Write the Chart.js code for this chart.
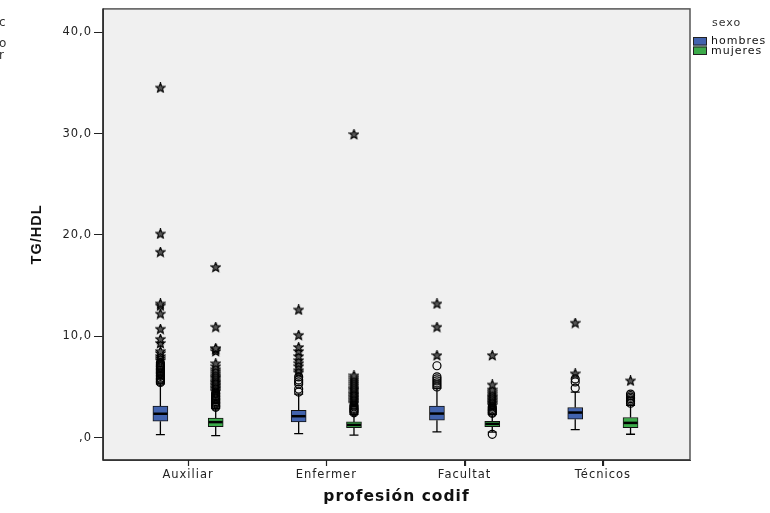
<!DOCTYPE html>
<html>
<head>
<meta charset="utf-8">
<script src="https://cdn.jsdelivr.net/npm/chart.js@4.4.1/dist/chart.umd.min.js"></script>
<style>
html, body { margin: 0; padding: 0; background: #fff; }
</style>
</head>
<body>
<canvas id="chart" width="770" height="513"></canvas>
<script>
const categories = ["Auxiliar", "Enfermer", "Facultat", "Técnicos"];
const yTicks = [0, 10, 20, 30, 40];

// boxes: lower whisker, Q1, median, Q3, upper whisker
const hombresLow = [0.3, 0.4, 0.57, 0.8];
const hombresQ1 = [1.63, 1.56, 1.72, 1.82];
const hombresMed = [2.36, 2.12, 2.38, 2.48];
const hombresQ3 = [3.12, 2.71, 3.13, 2.98];
const hombresHigh = [5.3, 4.3, 4.9, 4.5];

const mujeresLow = [0.2, 0.25, 0.55, 0.34];
const mujeresQ1 = [1.1, 1.0, 1.08, 0.98];
const mujeresMed = [1.54, 1.26, 1.36, 1.46];
const mujeresQ3 = [1.94, 1.56, 1.62, 1.99];
const mujeresHigh = [2.9, 2.3, 2.3, 3.2];

// outliers (circles) and extremes (stars)
const hombresCircles = [
    [5.45, 5.55, 5.7, 5.8, 5.9, 6.05, 6.15, 6.3, 6.4, 6.5, 6.65, 6.75, 6.85, 7.0, 7.1, 7.25, 7.4],
    [4.5, 4.8, 5.3, 5.5, 5.7, 6.0],
    [5.0, 5.2, 5.4, 5.6, 5.8, 6.0, 7.1],
    [4.9, 5.5, 5.8]
];
const hombresStars = [
    [7.6, 7.8, 8.0, 8.3, 8.5, 9.3, 9.7, 10.7, 12.2, 13.0, 13.2, 18.3, 20.1, 34.5],
    [6.4, 6.6, 7.0, 7.3, 7.6, 8.0, 8.5, 8.9, 10.1, 12.6],
    [8.1, 10.9, 13.2],
    [6.3, 11.3]
];
const mujeresCircles = [
    [3.0, 3.1, 3.2, 3.35, 3.45, 3.55, 3.7, 3.8, 3.9, 4.05, 4.15, 4.3, 4.4],
    [2.45, 2.55, 2.7, 2.8, 2.9, 3.05, 3.2],
    [0.33, 2.4, 2.5, 2.65, 2.75, 2.9, 3.05],
    [3.4, 3.55, 3.7, 3.85, 4.0, 4.15, 4.3]
];
const mujeresStars = [
    [4.55, 4.7, 4.85, 5.0, 5.15, 5.3, 5.45, 5.6, 5.8, 5.95, 6.1, 6.3, 6.5, 6.7, 7.0, 7.3, 8.5, 8.7, 8.8, 10.9, 16.8],
    [3.35, 3.5, 3.65, 3.8, 3.95, 4.1, 4.25, 4.4, 4.6, 4.75, 4.9, 5.1, 5.3, 5.5, 5.7, 5.9, 6.1, 29.9],
    [3.2, 3.35, 3.5, 3.65, 3.8, 3.95, 4.1, 4.3, 4.5, 4.7, 5.2, 8.1],
    [5.6]
];

const blue = "#4263ae";
const green = "#3caa4a";
const shift = 0.2;

function points(groups, off) {
    return groups.flatMap((vals, i) => vals.map(v => ({ x: i + off, y: v })));
}

function starImage() {
    const c = document.createElement("canvas");
    c.width = 11; c.height = 11;
    const g = c.getContext("2d");
    g.beginPath();
    for (let k = 0; k < 10; k++) {
        const r = k % 2 ? 2.2 : 5;
        const ang = -Math.PI / 2 + k * Math.PI / 5;
        g.lineTo(5.5 + r * Math.cos(ang), 5.5 + r * Math.sin(ang));
    }
    g.closePath();
    g.fillStyle = "#555";
    g.fill();
    g.strokeStyle = "#000";
    g.lineWidth = 1.1;
    g.stroke();
    return c;
}
const star = starImage();

const groups = [
    { off: -shift, low: hombresLow, q1: hombresQ1, med: hombresMed, q3: hombresQ3, high: hombresHigh },
    { off: shift, low: mujeresLow, q1: mujeresQ1, med: mujeresMed, q3: mujeresQ3, high: mujeresHigh }
];

const spacing = chart => { chart.ctx.letterSpacing = "1px"; };

const boxPlugin = {
    id: "boxes",
    beforeInit: spacing,
    beforeUpdate: spacing,
    beforeLayout: spacing,
    beforeDraw(chart) {
        spacing(chart);
        const ctx = chart.ctx, a = chart.chartArea;
        ctx.save();
        ctx.fillStyle = "#f0f0f0";
        ctx.fillRect(a.left, a.top, a.right - a.left, a.bottom - a.top);
        ctx.restore();
    },
    beforeDatasetsDraw(chart) {
        const ctx = chart.ctx, xs = chart.scales.x, ys = chart.scales.y;
        ctx.save();
        ctx.strokeStyle = "#000";
        ctx.lineWidth = 1.3;
        groups.forEach(g => {
            categories.forEach((c, i) => {
                const x = xs.getPixelForValue(i + g.off);
                const yl = ys.getPixelForValue(g.low[i]), yh = ys.getPixelForValue(g.high[i]);
                ctx.beginPath();
                ctx.moveTo(x, ys.getPixelForValue(g.q3[i])); ctx.lineTo(x, yh);
                ctx.moveTo(x, ys.getPixelForValue(g.q1[i])); ctx.lineTo(x, yl);
                ctx.moveTo(x - 4.5, yh); ctx.lineTo(x + 4.5, yh);
                ctx.moveTo(x - 4.5, yl); ctx.lineTo(x + 4.5, yl);
                ctx.stroke();
            });
        });
        ctx.restore();
    },
    afterDatasetDraw(chart, args) {
        if (args.index > 1) return;
        const g = groups[args.index];
        const ctx = chart.ctx, xs = chart.scales.x, ys = chart.scales.y;
        ctx.save();
        ctx.strokeStyle = "#000";
        ctx.lineWidth = 2.5;
        categories.forEach((c, i) => {
            const x = xs.getPixelForValue(i + g.off), y = ys.getPixelForValue(g.med[i]);
            ctx.beginPath();
            ctx.moveTo(x - 7, y); ctx.lineTo(x + 7, y);
            ctx.stroke();
        });
        ctx.restore();
    },
    afterDraw(chart) {
        const ctx = chart.ctx, a = chart.chartArea, xs = chart.scales.x;
        ctx.save();
        ctx.strokeStyle = "#555";
        ctx.lineWidth = 1.5;
        ctx.strokeRect(a.left, a.top, a.right - a.left, a.bottom - a.top);
        ctx.strokeStyle = "#222";
        ctx.lineWidth = 1.2;
        ctx.beginPath();
        ctx.moveTo(a.left, a.top); ctx.lineTo(a.left, a.bottom); ctx.lineTo(a.right, a.bottom);
        // category tick marks
        categories.forEach((c, i) => {
            const x = Math.round(xs.getPixelForValue(i)) + 0.5;
            ctx.moveTo(x, a.bottom); ctx.lineTo(x, a.bottom + 6);
        });
        ctx.stroke();

        // legend
        ctx.letterSpacing = "1px";
        ctx.fillStyle = "#333";
        ctx.textBaseline = "middle";
        ctx.font = "11px 'DejaVu Sans'";
        ctx.fillText("sexo", 712, 23);
        [["hombres", blue, 37], ["mujeres", green, 46.5]].forEach(([t, col, y]) => {
            ctx.fillStyle = col;
            ctx.fillRect(693, y, 14, 8.5);
            ctx.strokeStyle = "#222";
            ctx.lineWidth = 1;
            ctx.strokeRect(693.5, y + 0.5, 13, 7.5);
            ctx.fillStyle = "#111";
            ctx.fillText(t, 711, y + 4.5);
        });

        // cut-off text at left edge
        ctx.font = "12px 'DejaVu Sans'";
        ctx.fillStyle = "#333";
        ctx.fillText("c", -1, 23);
        ctx.fillText("o", -1, 43.5);
        ctx.fillText("r", -1, 56);
        ctx.restore();
    }
};

new Chart(document.getElementById("chart"), {
    data: {
        datasets: [
            {
                type: "bar",
                label: "hombres",
                data: categories.map((c, i) => ({ x: i - shift, y: [hombresQ1[i], hombresQ3[i]] })),
                backgroundColor: blue,
                borderColor: "#111",
                borderWidth: 1,
                borderSkipped: false,
                barThickness: 15,
                grouped: false,
                order: 2
            },
            {
                type: "bar",
                label: "mujeres",
                data: categories.map((c, i) => ({ x: i + shift, y: [mujeresQ1[i], mujeresQ3[i]] })),
                backgroundColor: green,
                borderColor: "#111",
                borderWidth: 1,
                borderSkipped: false,
                barThickness: 15,
                grouped: false,
                order: 2
            },
            { type: "scatter", data: points(hombresCircles, -shift), pointStyle: "circle", radius: 4, borderColor: "#000", borderWidth: 1.2, backgroundColor: "rgba(0,0,0,0)", order: 1 },
            { type: "scatter", data: points(mujeresCircles, shift), pointStyle: "circle", radius: 4, borderColor: "#000", borderWidth: 1.2, backgroundColor: "rgba(0,0,0,0)", order: 1 },
            { type: "scatter", data: points(hombresStars, -shift), pointStyle: star, radius: 5, order: 1 },
            { type: "scatter", data: points(mujeresStars, shift), pointStyle: star, radius: 5, order: 1 }
        ]
    },
    options: {
        responsive: false,
        animation: false,
        events: [],
        layout: { padding: { top: 8, right: 80, left: 0, bottom: 0 } },
        plugins: {
            legend: { display: false },
            tooltip: { enabled: false }
        },
        scales: {
            x: {
                type: "linear",
                offset: false,
                min: -0.615,
                max: 3.63,
                afterBuildTicks: s => { s.ticks = categories.map((c, i) => ({ value: i })); },
                afterFit: s => { s.height = 53; },
                ticks: {
                    callback: v => categories[v],
                    autoSkip: false,
                    maxRotation: 0,
                    padding: 2,
                    color: "#222",
                    font: { family: "'DejaVu Sans'", size: 11.5 }
                },
                grid: { offset: false, drawOnChartArea: false, drawTicks: true, tickLength: 6, color: "#222" },
                border: { display: true, color: "#222" },
                title: {
                    display: true,
                    text: "profesión codif",
                    color: "#111",
                    font: { family: "'DejaVu Sans'", size: 15.5, weight: "bold" },
                    padding: { top: 0, bottom: 7 }
                }
            },
            y: {
                min: -2.2,
                max: 42.3,
                afterBuildTicks: s => { s.ticks = yTicks.map(v => ({ value: v })); },
                afterFit: s => { s.width = 103; },
                ticks: {
                    callback: v => v === 0 ? ",0" : v.toFixed(1).replace(".", ","),
                    padding: 2,
                    color: "#222",
                    font: { family: "'DejaVu Sans'", size: 11.5 }
                },
                grid: { drawOnChartArea: false, drawTicks: true, tickLength: 9, color: "#222" },
                border: { display: true, color: "#222" },
                title: {
                    display: true,
                    text: "TG/HDL",
                    color: "#111",
                    font: { family: "'Liberation Sans'", size: 14.5, weight: "bold" },
                    padding: { top: 28, bottom: 0 }
                }
            }
        }
    },
    plugins: [boxPlugin]
});
</script>
</body>
</html>
